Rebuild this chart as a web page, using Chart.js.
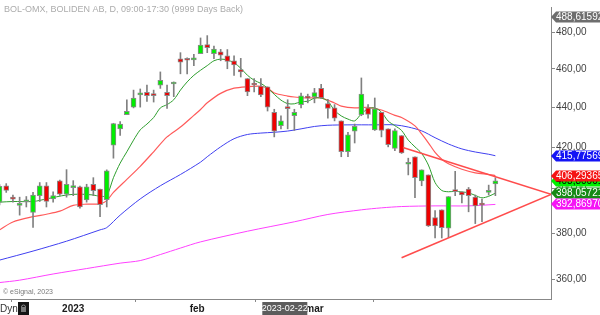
<!DOCTYPE html>
<html>
<head>
<meta charset="utf-8">
<script src="https://cdn.jsdelivr.net/npm/chart.js@4/dist/chart.umd.min.js"></script>
<style>
  html, body { margin: 0; padding: 0; background: #fff; }
  #wrap { width: 600px; height: 315px; position: relative; }
</style>
</head>
<body>
<div id="wrap"><canvas id="chart"></canvas></div>
<script>
// daily candles, one per trading day (index = position on x axis)
const opens = [393.9, 401.5, 395.5, 392.4, 394.1, 389.2, 396.9, 401.5, 395.4, 403.8,
    397.6, 400.6, 401.0, 394.9, 402.2, 399.9, 395.0, 420.9, 429.0, 436.1,
    440.0, 446.3, 447.7, 446.0, 451.4, 447.7, 452.0, 465.4, 465.4, 464.9,
    468.3, 473.3, 468.3, 469.2, 467.1, 464.4, 459.6, 454.9, 451.8, 450.9,
    450.5, 437.3, 430.6, 439.4, 435.6, 441.3, 444.8, 445.2, 449.7, 441.8,
    439.6, 433.0, 417.7, 427.9, 436.1, 439.6, 428.5, 437.3, 429.0, 419.3,
    425.7, 411.7, 415.3, 403.8, 406.6, 386.9, 390.4, 382.2, 399.0, 398.7,
    399.9, 396.2, 393.2, 398.4, 402.3];
const highs = [402.1, 402.5, 397.2, 396.2, 396.5, 398.4, 403.0, 403.0, 398.7, 404.2,
    409.1, 403.9, 401.3, 402.2, 405.3, 399.9, 409.0, 431.8, 432.7, 443.8,
    448.8, 449.4, 451.4, 448.8, 458.4, 451.4, 453.1, 468.8, 466.0, 467.9,
    476.9, 478.2, 472.4, 470.6, 470.5, 467.1, 465.7, 454.9, 454.9, 454.9,
    450.5, 438.9, 435.6, 443.8, 438.9, 447.2, 446.7, 449.7, 451.8, 444.0,
    441.3, 433.0, 427.3, 431.4, 455.2, 441.3, 444.7, 437.3, 429.0, 429.0,
    425.7, 414.6, 415.3, 409.0, 406.6, 390.1, 390.4, 396.5, 408.3, 398.7,
    400.7, 397.2, 395.3, 401.8, 405.3];
const lows = [392.6, 398.4, 393.9, 388.0, 391.7, 382.5, 394.2, 391.7, 393.9, 397.0,
    396.2, 396.9, 391.2, 393.9, 396.9, 387.3, 391.7, 414.6, 425.7, 436.1,
    439.6, 440.0, 442.9, 442.6, 449.7, 439.3, 445.4, 457.4, 457.4, 461.8,
    468.3, 468.8, 465.5, 464.4, 460.1, 456.6, 455.7, 445.9, 447.9, 445.4,
    438.0, 425.0, 429.0, 429.0, 428.2, 439.6, 442.2, 442.2, 444.5, 434.4,
    433.0, 415.3, 415.3, 422.0, 435.6, 434.4, 428.2, 425.0, 420.1, 418.2,
    416.9, 406.6, 396.0, 401.5, 382.9, 377.8, 377.8, 378.0, 396.9, 393.5,
    389.5, 384.2, 385.1, 397.2, 396.9];
const closes = [401.2, 399.3, 395.3, 392.6, 394.4, 397.2, 401.5, 394.2, 396.9, 397.6,
    402.2, 401.2, 391.7, 401.0, 399.2, 392.7, 408.5, 431.7, 431.4, 437.8,
    444.7, 447.2, 445.9, 445.9, 454.0, 445.9, 452.3, 463.6, 464.7, 465.9,
    472.9, 471.5, 470.8, 467.5, 464.1, 462.2, 458.4, 447.9, 451.5, 446.3,
    440.0, 427.9, 433.0, 439.2, 437.3, 445.8, 444.6, 447.5, 444.7, 439.3,
    434.4, 417.7, 426.0, 430.3, 446.7, 436.3, 439.1, 428.2, 421.2, 428.2,
    417.2, 411.9, 405.3, 409.0, 383.2, 383.2, 382.4, 396.5, 398.8, 397.2,
    396.9, 392.2, 392.6, 398.6, 403.8];

// moving averages at these candle positions
const greenIdx = [0, 2, 5, 7, 10, 12, 14, 15, 16, 17, 18, 19, 20, 21, 22, 23, 24, 25, 26, 27,
    28, 29, 30, 31, 32, 33, 34, 35, 36, 37, 38, 39, 40, 41, 42, 43, 44, 45, 46, 47,
    48, 49, 50, 51, 52, 53, 54, 55, 56, 57, 58, 59, 60, 61, 62, 63, 64, 65, 66, 67,
    68, 69, 70, 71, 72, 73, 74];
const greenMa = [393.9, 394.2, 394.2, 395.4, 397.2, 397.6, 397.2, 396.6, 397.0, 405.3,
    412.2, 417.7, 423.4, 428.5, 431.4, 434.7, 439.6, 441.3, 443.8, 448.8,
    453.1, 456.6, 459.3, 461.8, 464.4, 465.3, 464.8, 463.3, 460.4, 456.6,
    454.0, 452.3, 449.9, 446.6, 443.6, 441.8, 441.7, 442.8, 443.0, 444.6,
    444.7, 443.0, 438.3, 435.5, 433.9, 433.0, 436.6, 439.1, 439.6, 437.4,
    432.9, 430.6, 428.2, 423.4, 420.1, 416.9, 411.3, 403.0, 399.3, 398.7,
    398.9, 398.6, 398.2, 397.0, 395.9, 396.6, 398.057];
const redIdx = [0, 2, 5, 7, 9, 11, 13, 15, 16, 17, 19, 21, 23, 25, 27, 29, 30, 31, 33, 35,
    37, 39, 40, 41, 43, 44, 46, 48, 50, 51, 53, 55, 57, 59, 60, 62, 63, 64, 65, 66,
    67, 69, 71, 73, 74];
const redMa = [381.4, 384.9, 387.3, 388.4, 389.8, 392.4, 393.0, 393.1, 394.6, 398.4,
    404.5, 410.7, 417.7, 425.0, 429.9, 435.8, 438.8, 442.2, 447.1, 449.8,
    450.6, 450.8, 449.8, 447.3, 445.7, 445.2, 444.7, 444.7, 442.1, 440.5,
    439.6, 439.9, 438.5, 435.8, 434.7, 430.5, 426.5, 422.1, 417.4, 414.1,
    411.9, 409.3, 407.6, 406.8, 406.294];
const blueIdx = [0, 5, 10, 15, 16, 18, 21, 24, 27, 30, 31, 33, 35, 37, 39, 41, 43, 45, 47, 49,
    52, 56, 59, 61, 63, 65, 67, 69, 71, 73, 74];
const blueMa = [368.2, 372.1, 376.4, 381.4, 382.4, 388.0, 395.4, 401.5, 406.8, 412.7,
    415.3, 420.1, 424.1, 426.2, 426.9, 427.3, 427.9, 429.0, 430.2, 430.8,
    431.0, 431.0, 431.0, 429.9, 428.0, 424.6, 421.5, 419.1, 417.6, 416.5,
    415.776];
const magentaIdx = [0, 3, 8, 13, 18, 21, 24, 27, 30, 37, 44, 49, 54, 57, 60, 65, 70, 74];
const magentaMa = [358.7, 359.7, 362.3, 364.6, 366.9, 368.0, 370.6, 373.4, 376.1, 380.8,
    385.0, 388.3, 390.4, 391.3, 391.9, 392.2, 392.2, 392.870];

// triangle trend lines
const upperIdx = [60.2, 82.3];
const upperVal = [419.8, 397.5];
const lowerIdx = [60.0, 82.3];
const lowerVal = [369.2, 397.5];

// axes
const X_MIN = 0.07;
const X_MAX = 82.3;
const Y_MIN = 351.9;
const Y_MAX = 494.4;
const yTicks = [360, 380, 400, 420, 440, 460, 480];
const xTickIdx = [11, 29.5, 47];
const xTickText = ["2023", "feb", "mar"];
const cursorIdx = 42.5;
const cursorText = "2023-02-22";

// price tags on the right axis
const tagValues = [488.61592, 415.77569, 403.80001, 406.29365, 398.057218, 392.86970];
const tagText = ["488,61592", "415,77569", "403,80001", "406,29365", "398,057218", "392,86970"];
const tagFill = ["#6e6e6e", "#1414f5", "#00f000", "#f51414", "#168a16", "#f514f5"];
const tagInk = ["#fff", "#fff", "#000", "#fff", "#fff", "#fff"];

const TITLE = "BOL-OMX, BOLIDEN AB, D, 09:00-17:30 (9999 Days Back)";
const FONT = 'Arial, "Liberation Sans", sans-serif';

function fmt(v) {
    return v.toFixed(2).replace(".", ",")
}
function pts(idx, vals) {
    return idx.map(function (x, i) {
        return { x: x, y: vals[i] }
    })
}

let bodies = [];
let wicks = [];
let bodyColors = [];
for (let i = 0; i < opens.length; i++) {
    bodies.push({ x: i, y: [opens[i], closes[i]] });
    wicks.push({ x: i, y: [lows[i], highs[i]] });
    bodyColors.push(closes[i] >= opens[i] ? "#00ee00" : "#ee0000");
}

const decorations = {
    id: "decorations",
    afterDraw(chart) {
        const ctx = chart.ctx;
        const ys = chart.scales.y;
        const xs = chart.scales.x;
        ctx.save();

        ctx.font = "9px " + FONT;
        ctx.fillStyle = "#acacac";
        ctx.textBaseline = "middle";
        ctx.textAlign = "left";
        ctx.fillText(TITLE, 4, 10);

        ctx.font = "7px " + FONT;
        ctx.fillStyle = "#7a7a7a";
        ctx.fillText("\u00a9 eSignal, 2023", 3, 292);

        ctx.font = "10px " + FONT;
        ctx.fillStyle = "#333";
        ctx.fillText("Dyn", 0, 309);
        ctx.fillStyle = "#151515";
        ctx.fillRect(18, 302, 11, 13);
        ctx.strokeStyle = "#888";
        ctx.lineWidth = 1;
        ctx.beginPath();
        ctx.arc(23.5, 307, 2, Math.PI, 0);
        ctx.stroke();
        ctx.fillStyle = "#777";
        ctx.fillRect(21, 307, 5, 5);

        const cx = xs.getPixelForValue(cursorIdx);
        ctx.fillStyle = "#5c5c5c";
        ctx.fillRect(cx - 22, 302, 45, 13);
        ctx.fillStyle = "#fff";
        ctx.textAlign = "center";
        ctx.font = "9px " + FONT;
        ctx.fillText(cursorText, cx + 0.5, 309);

        ctx.textAlign = "left";
        ctx.font = "10px " + FONT;
        const left = chart.chartArea.right;
        for (let i = 0; i < tagValues.length; i++) {
            const y = Math.round(ys.getPixelForValue(tagValues[i]));
            ctx.fillStyle = tagFill[i];
            ctx.beginPath();
            ctx.moveTo(left, y);
            ctx.lineTo(left + 5, y - 5.5);
            ctx.lineTo(600, y - 5.5);
            ctx.lineTo(600, y + 5.5);
            ctx.lineTo(left + 5, y + 5.5);
            ctx.closePath();
            ctx.fill();
            ctx.fillStyle = tagInk[i];
            ctx.fillText(tagText[i], left + 5, y + 0.5);
        }
        ctx.restore();
    }
};

window.onload = function () {
    const ctx = document.getElementById("chart").getContext("2d");
    new Chart(ctx, {
        type: "bar",
        data: {
            datasets: [{
                type: "line",
                data: pts(upperIdx, upperVal),
                borderColor: "#ff4c4c",
                borderWidth: 1.5,
                pointRadius: 0,
                order: -1,
            },
            {
                type: "line",
                data: pts(lowerIdx, lowerVal),
                borderColor: "#ff4c4c",
                borderWidth: 1.5,
                pointRadius: 0,
                order: -1,
            },
            {
                data: bodies,
                backgroundColor: bodyColors,
                borderColor: "#8a8a8a",
                borderWidth: 1,
                borderSkipped: false,
                barThickness: 5,
                minBarLength: 2,
                grouped: false,
                order: 0,
            },
            {
                data: wicks,
                backgroundColor: "#808080",
                borderWidth: 0,
                barThickness: 1,
                grouped: false,
                order: 1,
            },
            {
                type: "line",
                data: pts(greenIdx, greenMa),
                borderColor: "#2e9e2e",
                borderWidth: 1,
                pointRadius: 0,
                tension: 0.3,
                order: 2,
            },
            {
                type: "line",
                data: pts(redIdx, redMa),
                borderColor: "#ff5a5a",
                borderWidth: 1.2,
                pointRadius: 0,
                tension: 0.3,
                order: 3,
            },
            {
                type: "line",
                data: pts(blueIdx, blueMa),
                borderColor: "#4040f0",
                borderWidth: 1,
                pointRadius: 0,
                tension: 0.3,
                order: 4,
            },
            {
                type: "line",
                data: pts(magentaIdx, magentaMa),
                borderColor: "#ff40ff",
                borderWidth: 1,
                pointRadius: 0,
                tension: 0.3,
                order: 5,
            },
            ],
        },
        options: {
            responsive: true,
            maintainAspectRatio: false,
            animation: false,
            layout: { padding: 0 },
            plugins: {
                legend: { display: false },
                tooltip: { enabled: false },
            },
            scales: {
                x: {
                    type: "linear",
                    min: X_MIN,
                    max: X_MAX,
                    offset: false,
                    afterBuildTicks: function (s) {
                        s.ticks = xTickIdx.map(function (v) { return { value: v } });
                    },
                    afterFit: function (s) { s.height = 16 },
                    grid: { drawOnChartArea: false, tickLength: 3, color: "#888" },
                    border: { display: true, color: "#888" },
                    ticks: {
                        autoSkip: false,
                        maxRotation: 0,
                        padding: 1,
                        color: "#1a1a1a",
                        font: { family: FONT, size: 10, weight: "bold" },
                        callback: function (v, i) { return xTickText[i] },
                    },
                },
                y: {
                    type: "logarithmic",
                    position: "right",
                    min: Y_MIN,
                    max: Y_MAX,
                    afterBuildTicks: function (s) {
                        s.ticks = yTicks.map(function (v) { return { value: v } });
                    },
                    afterFit: function (s) { s.width = 49 },
                    grid: { drawOnChartArea: false, tickLength: 4, color: "#888" },
                    border: { display: true, color: "#888" },
                    ticks: {
                        padding: 1,
                        color: "#444",
                        font: { family: FONT, size: 10 },
                        callback: function (v) { return fmt(v) },
                    },
                },
            },
        },
        plugins: [decorations],
    });
};
</script>
</body>
</html>
